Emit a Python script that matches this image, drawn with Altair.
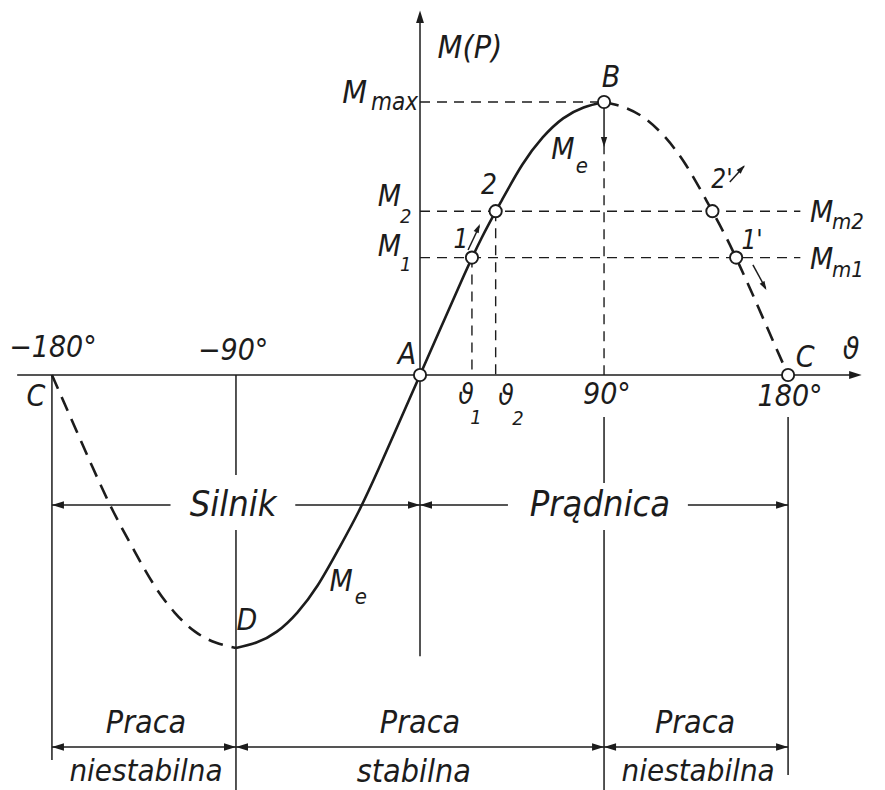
import altair as alt
import pandas as pd

# Load angle (degrees) and electromagnetic torque M / Mmax, read every 10 degrees
theta_deg = list(range(-180, 181, 10))
torque = [0.00, -0.17, -0.34, -0.50, -0.64, -0.77, -0.87, -0.94, -0.98, -1.00,
          -0.98, -0.94, -0.87, -0.77, -0.64, -0.50, -0.34, -0.17, 0.00,
          0.17, 0.34, 0.50, 0.64, 0.77, 0.87, 0.94, 0.98, 1.00,
          0.98, 0.94, 0.87, 0.77, 0.64, 0.50, 0.34, 0.17, 0.00]

# Operating points on the characteristic
pt_theta = [0.0, 90.0, 180.0, 25.4, 37.0, 154.6, 143.0]
pt_torque = [0.00, 1.00, 0.00, 0.43, 0.60, 0.43, 0.60]

M1, M2, MMAX = 0.43, 0.60, 1.00
TH1, TH2 = 25.4, 37.0

INK = "#1c1c1c"
FONT = "DejaVu Sans Condensed, DejaVu Sans"
X_DOM = [-205.4, 227.4]
Y_DOM = [-1.5201, 1.3736]

xs = alt.Scale(domain=X_DOM, nice=False, zero=False)
ys = alt.Scale(domain=Y_DOM, nice=False, zero=False)


def X(f="x"):
    return alt.X(f"{f}:Q", scale=xs, axis=None)


def Y(f="y"):
    return alt.Y(f"{f}:Q", scale=ys, axis=None)


# --- characteristic: dashed on the unstable parts, solid between D and B
curve = pd.DataFrame({"x": theta_deg, "y": torque})
parts = []
for name, lo, hi in [("left", -180, -90), ("mid", -90, 90), ("right", 90, 180)]:
    p = curve[(curve.x >= lo) & (curve.x <= hi)].copy()
    p["part"] = name
    parts.append(p)
curve_solid = parts[1]
curve_dashed = pd.concat([parts[0], parts[2]])

solid_curve = alt.Chart(curve_solid).mark_line(
    color=INK, strokeWidth=2.6, interpolate="natural"
).encode(x=X(), y=Y(), order="x:Q")

dashed_curve = alt.Chart(curve_dashed).mark_line(
    color=INK, strokeWidth=2.6, strokeDash=[15, 9], interpolate="natural"
).encode(x=X(), y=Y(), detail="part:N", order="x:Q")

# --- axes, dimension lines and construction lines
ROW_MID = -0.476
ROW_LOW = -1.363
solid_rules = pd.DataFrame(
    [
        (-197, 0, 214, 0),            # load-angle axis
        (0, -1.03, 0, 1.32),           # torque axis
        (-180, 0, -180, -1.41),
        (-90, 0, -90, -0.366), (-90, -0.568, -90, -1.52),
        (90, -0.154, 90, -0.396), (90, -0.568, 90, -1.52),
        (180, -0.154, 180, -1.465),
        (90, 0.982, 90, 0.845),        # arrow below B
        (-180, ROW_MID, -122, ROW_MID), (-61, ROW_MID, 0, ROW_MID),
        (0, ROW_MID, 43, ROW_MID), (131, ROW_MID, 180, ROW_MID),
        (-180, ROW_LOW, -90, ROW_LOW), (-90, ROW_LOW, 90, ROW_LOW),
        (90, ROW_LOW, 180, ROW_LOW),
        (23.5, 0.458, 29.0, 0.545),    # direction marks along the curve
        (151.5, 0.707, 158.5, 0.765),
        (162.8, 0.403, 169.0, 0.318),
    ],
    columns=["x", "y", "x2", "y2"],
)
dashed_rules = pd.DataFrame(
    [
        (0, MMAX, 90, MMAX),
        (0, M2, 186, M2),
        (0, M1, 186, M1),
        (TH1, M1, TH1, 0),
        (TH2, M2, TH2, 0),
        (90, 0.845, 90, 0),
    ],
    columns=["x", "y", "x2", "y2"],
)

rules_solid = alt.Chart(solid_rules).mark_rule(color=INK, strokeWidth=1.5).encode(
    x=X(), y=Y(), x2="x2:Q", y2="y2:Q"
)
rules_dashed = alt.Chart(dashed_rules).mark_rule(
    color=INK, strokeWidth=1.4, strokeDash=[10, 7]
).encode(x=X(), y=Y(), x2="x2:Q", y2="y2:Q")

# --- arrowheads (tip at the point, angle clockwise from pointing right)
heads = pd.DataFrame(
    [
        (216, 0, 0, 110), (0, 1.335, 270, 110),
        (-180, ROW_MID, 180, 100), (0, ROW_MID, 0, 100),
        (0, ROW_MID, 180, 100), (180, ROW_MID, 0, 100),
        (-180, ROW_LOW, 180, 100), (-90, ROW_LOW, 0, 100),
        (-90, ROW_LOW, 180, 100), (90, ROW_LOW, 0, 100),
        (90, ROW_LOW, 180, 100), (180, ROW_LOW, 0, 100),
        (90, 0.835, 90, 70),
        (29.3, 0.553, 295, 55),
        (158.8, 0.768, 313, 55),
        (169.4, 0.311, 61, 55),
    ],
    columns=["x", "y", "ang", "sz"],
)
arrow_heads = alt.Chart(heads).mark_point(
    shape="M0,0L-2.4,-0.75L-2.4,0.75Z", filled=True, color=INK, opacity=1
).encode(
    x=X(), y=Y(),
    angle=alt.Angle("ang:Q", scale=None),
    size=alt.Size("sz:Q", scale=None),
)

# --- open circles at the operating points
points = pd.DataFrame({"x": pt_theta, "y": pt_torque})
circles = alt.Chart(points).mark_point(
    shape="circle", filled=True, fill="white", stroke=INK, strokeWidth=1.9,
    size=150, opacity=1
).encode(x=X(), y=Y())

# --- lettering
center_labels = [
    ("M(P)", 24.4, 1.198, 32),
    ("B", 93.4, 1.088, 30),
    ("A", -6.4, 0.073, 30),
    ("2", 33.7, 0.692, 28),
    ("1", 20.0, 0.495, 26),
    ("M", 69.9, 0.824, 30), ("e", 79.2, 0.766, 22),
    ("ϑ", 22.5, -0.077, 28), ("1", 27.4, -0.158, 20),
    ("ϑ", 42.1, -0.081, 28), ("2", 47.9, -0.161, 20),
    ("90°", 91.4, -0.073, 30),
    ("180°", 181.0, -0.081, 30),
    ("C", 188.3, 0.062, 30),
    ("ϑ", 210.8, 0.092, 30),
    ("−180°", -179.5, 0.099, 30),
    ("−90°", -91.4, 0.088, 30),
    ("C", -187.8, -0.081, 30),
    ("D", -84.6, -0.901, 30),
    ("M", -38.6, -0.758, 30), ("e", -28.9, -0.813, 22),
    ("Silnik", -91.4, ROW_MID, 36),
    ("Prądnica", 88.0, ROW_MID, 36),
    ("Praca", -134.0, -1.275, 32), ("niestabilna", -134.0, -1.454, 31),
    ("Praca", 0.0, -1.275, 32), ("stabilna", -3.0, -1.454, 32),
    ("Praca", 134.5, -1.275, 32), ("niestabilna", 136.0, -1.454, 31),
    ("2'", 147.7, 0.714, 26),
    ("1'", 162.4, 0.491, 26),
]
right_labels = [
    ("M", -25.9, 1.033, 32), ("max", -1.0, 0.996, 24),
    ("M", -9.3, 0.652, 30),
    ("M", -9.3, 0.469, 30),
]
left_labels = [
    ("2", -9.8, 0.579, 20),
    ("1", -9.8, 0.403, 20),
    ("M", 190.7, 0.593, 30), ("m2", 201.5, 0.560, 22),
    ("M", 190.7, 0.421, 30), ("m1", 201.5, 0.385, 22),
]


def text_layer(rows, align):
    df = pd.DataFrame(rows, columns=["text", "x", "y", "fs"])
    return alt.Chart(df).mark_text(
        align=align, baseline="middle", font=FONT, fontStyle="italic",
        color=INK
    ).encode(
        x=X(), y=Y(), text="text:N", size=alt.Size("fs:Q", scale=None)
    )


chart = alt.layer(
    rules_dashed,
    rules_solid,
    dashed_curve,
    solid_curve,
    arrow_heads,
    circles,
    text_layer(center_labels, "center"),
    text_layer(right_labels, "right"),
    text_layer(left_labels, "left"),
).properties(
    width=885, height=790, autosize=alt.AutoSizeParams(type="none"), padding=0,
    background="white"
).configure_view(stroke=None)

chart.save("out.html", embed_options={"renderer": "svg", "actions": False})
